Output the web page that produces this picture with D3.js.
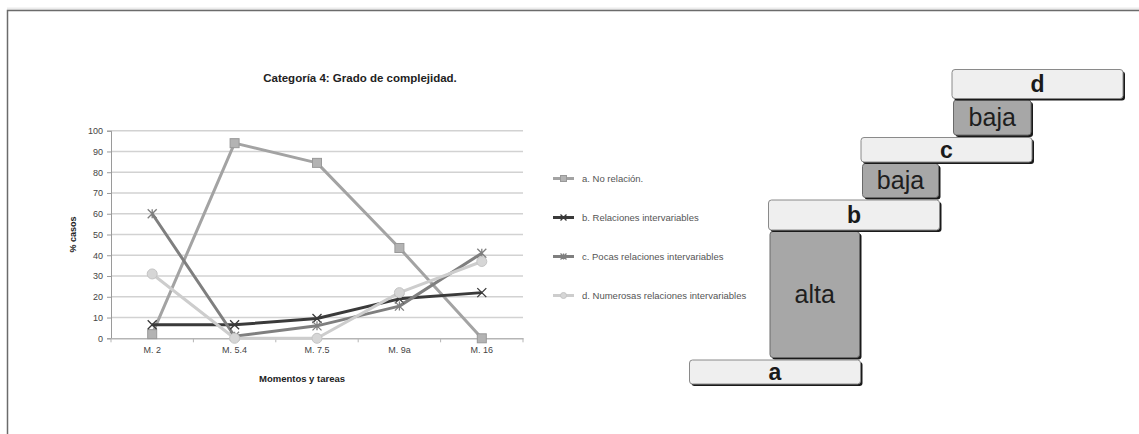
<!DOCTYPE html>
<html>
<head>
<meta charset="utf-8">
<script src="https://cdn.jsdelivr.net/npm/d3@7/dist/d3.min.js"></script>
<style>
  html, body { margin: 0; padding: 0; background: #fff; }
  svg { display: block; font-family: "Liberation Sans", Arial, Helvetica, sans-serif; }
</style>
</head>
<body>
<svg id="chart" width="1139" height="434"></svg>
<script>
// Moments / tasks on the x axis
const categories = ["M. 2", "M. 5.4", "M. 7.5", "M. 9a", "M. 16"];
// % of cases per series
const noRelacion = [2, 94, 84.5, 43.5, 0];
const relaciones = [6.5, 6.5, 9.5, 19, 22];
const pocas = [60, 1, 6, 15.5, 41];
const numerosas = [31, 0, 0, 22, 37];
const seriesNames = [
  "a. No relación.",
  "b. Relaciones intervariables",
  "c. Pocas relaciones intervariables",
  "d. Numerosas relaciones intervariables"
];
const yTicks = [0, 10, 20, 30, 40, 50, 60, 70, 80, 90, 100];

// Staircase: levels and the grade reached between consecutive levels
const levels = ["a", "b", "c", "d"];
const grades = ["alta", "baja", "baja"];

const series = [
  { name: seriesNames[0], values: noRelacion, color: "#a3a3a3", marker: "square" },
  { name: seriesNames[1], values: relaciones, color: "#3a3a3a", marker: "x" },
  { name: seriesNames[2], values: pocas, color: "#7f7f7f", marker: "star" },
  { name: seriesNames[3], values: numerosas, color: "#cdcdcd", marker: "circle" }
];

const svg = d3.select("#chart");

// frame
svg.append("line").attr("x1", 7).attr("x2", 1139).attr("y1", 9).attr("y2", 9)
  .attr("stroke", "#ececec").attr("stroke-width", 3);
svg.append("path").attr("d", "M7.5,434V10.5H1139")
  .attr("fill", "none").attr("stroke", "#6b6b6b").attr("stroke-width", 1.5);

// ---------- line chart ----------
const plot = { left: 111, right: 523, top: 130.7, bottom: 338.3 };
const x = d3.scaleBand().domain(categories).range([plot.left, plot.right]);
const y = d3.scaleLinear().domain([0, 100]).range([plot.bottom, plot.top]);

svg.append("text").attr("x", 360).attr("y", 82).attr("text-anchor", "middle")
  .attr("font-size", 11.5).attr("font-weight", "bold").attr("fill", "#222")
  .text("Categoría 4: Grado de complejidad.");

// gridlines
svg.append("g").selectAll("line").data(yTicks.filter(d => d > 0)).join("line")
  .attr("x1", plot.left).attr("x2", plot.right)
  .attr("y1", d => y(d)).attr("y2", d => y(d))
  .attr("stroke", "#d2d2d2").attr("stroke-width", 1.5);

// y axis
const yAxis = svg.append("g").attr("transform", `translate(${plot.left},0)`)
  .call(d3.axisLeft(y).tickValues(yTicks).tickSize(4).tickPadding(4));
yAxis.select(".domain").attr("stroke", "#9a9a9a");
yAxis.selectAll(".tick line").attr("stroke", "#9a9a9a");
yAxis.selectAll("text").attr("font-size", 9).attr("fill", "#444")
  .attr("font-family", "Liberation Sans, Arial, sans-serif");

// x axis
const xAxis = svg.append("g").attr("transform", `translate(0,${plot.bottom})`)
  .call(d3.axisBottom(x).tickSize(0).tickPadding(8));
xAxis.select(".domain").attr("stroke", "#b5b5b5").attr("stroke-width", 1.5);
xAxis.selectAll("text").attr("font-size", 9).attr("fill", "#444")
  .attr("font-family", "Liberation Sans, Arial, sans-serif");
svg.append("g").selectAll("line").data(d3.range(categories.length + 1)).join("line")
  .attr("x1", i => plot.left + i * x.step()).attr("x2", i => plot.left + i * x.step())
  .attr("y1", plot.bottom).attr("y2", plot.bottom + 4)
  .attr("stroke", "#b5b5b5");

// axis titles
svg.append("text").attr("transform", `translate(76,${(plot.top + plot.bottom) / 2}) rotate(-90)`)
  .attr("text-anchor", "middle").attr("font-size", 9).attr("font-weight", "bold").attr("fill", "#222")
  .text("% casos");
svg.append("text").attr("x", (plot.left + plot.right) / 2 - 15).attr("y", 382)
  .attr("text-anchor", "middle").attr("font-size", 9.5).attr("font-weight", "bold").attr("fill", "#222")
  .text("Momentos y tareas");

function drawMarker(g, type, color, size) {
  const s = size;
  if (type === "square") {
    g.append("rect").attr("x", -s / 2).attr("y", -s / 2).attr("width", s).attr("height", s)
      .attr("fill", "#b3b3b3").attr("stroke", "#999").attr("stroke-width", 1);
  } else if (type === "circle") {
    g.append("circle").attr("r", s / 2).attr("fill", "#d6d6d6").attr("stroke", "#c4c4c4");
  } else if (type === "x") {
    g.append("path").attr("d", `M${-s / 2},${-s / 2}L${s / 2},${s / 2}M${-s / 2},${s / 2}L${s / 2},${-s / 2}`)
      .attr("stroke", color).attr("stroke-width", 1.3);
  } else if (type === "star") {
    g.append("path").attr("d", `M${-s / 2},${-s / 2}L${s / 2},${s / 2}M${-s / 2},${s / 2}L${s / 2},${-s / 2}M0,${-s / 2}V${s / 2}`)
      .attr("stroke", color).attr("stroke-width", 1.3);
  }
}

const line = d3.line().x((d, i) => x(categories[i]) + x.bandwidth() / 2).y(d => y(d));
series.forEach(s => {
  svg.append("path").datum(s.values).attr("d", line)
    .attr("fill", "none").attr("stroke", s.color).attr("stroke-width", 3)
    .attr("stroke-linejoin", "round");
});
series.forEach(s => {
  s.values.forEach((v, i) => {
    const g = svg.append("g")
      .attr("transform", `translate(${x(categories[i]) + x.bandwidth() / 2},${y(v)})`);
    drawMarker(g, s.marker, s.color, s.marker === "circle" ? 10 : 9);
  });
});

// legend
const legendY = d3.scalePoint().domain(seriesNames).range([178.5, 295.5]);
series.forEach(s => {
  const g = svg.append("g").attr("transform", `translate(553,${legendY(s.name)})`);
  g.append("line").attr("x1", 0).attr("x2", 21).attr("stroke", s.color).attr("stroke-width", 3);
  const m = g.append("g").attr("transform", "translate(10.5,0)");
  drawMarker(m, s.marker, s.color, 6);
  g.append("text").attr("x", 29).attr("y", 3.3).attr("font-size", 9.5).attr("fill", "#555").text(s.name);
});

// ---------- staircase diagram ----------
const levelX = d3.scaleOrdinal().domain(levels).range([689.5, 768.5, 861, 952]);
const levelTop = d3.scaleOrdinal().domain(levels).range([360, 200, 137.5, 69.5]);
const levelBottom = d3.scaleOrdinal().domain(levels).range([384, 230, 162, 98.5]);
const levelWidth = 171;

function box(x0, y0, w, h, fill, stroke) {
  svg.append("rect").attr("x", x0 + 2).attr("y", y0 + 2).attr("width", w).attr("height", h)
    .attr("rx", 3).attr("fill", "#1a1a1a");
  svg.append("rect").attr("x", x0).attr("y", y0).attr("width", w).attr("height", h)
    .attr("rx", 3).attr("fill", fill).attr("stroke", stroke).attr("stroke-width", 1);
}

// grade boxes sit between one level and the next
grades.forEach((gname, i) => {
  const lo = levels[i], hi = levels[i + 1];
  const x0 = levelX(hi) + 1.5;
  const x1 = levelX(lo) + levelWidth - 1;
  const y0 = levelBottom(hi) + 1.5;
  const y1 = levelTop(lo) - 2.5;
  box(x0, y0, x1 - x0, y1 - y0, "#a7a7a7", "#6a6a6a");
  svg.append("text").attr("x", (x0 + x1) / 2).attr("y", (y0 + y1) / 2 + 8)
    .attr("text-anchor", "middle").attr("font-size", 25).attr("fill", "#1e1e1e").text(gname);
});

levels.forEach(l => {
  const x0 = levelX(l), y0 = levelTop(l), h = levelBottom(l) - levelTop(l);
  box(x0, y0, levelWidth, h, "#efefef", "#8a8a8a");
  svg.append("text").attr("x", x0 + levelWidth / 2).attr("y", y0 + h / 2 + 8)
    .attr("text-anchor", "middle").attr("font-size", 23).attr("font-weight", "bold")
    .attr("fill", "#1a1a1a").text(l);
});
</script>
</body>
</html>
